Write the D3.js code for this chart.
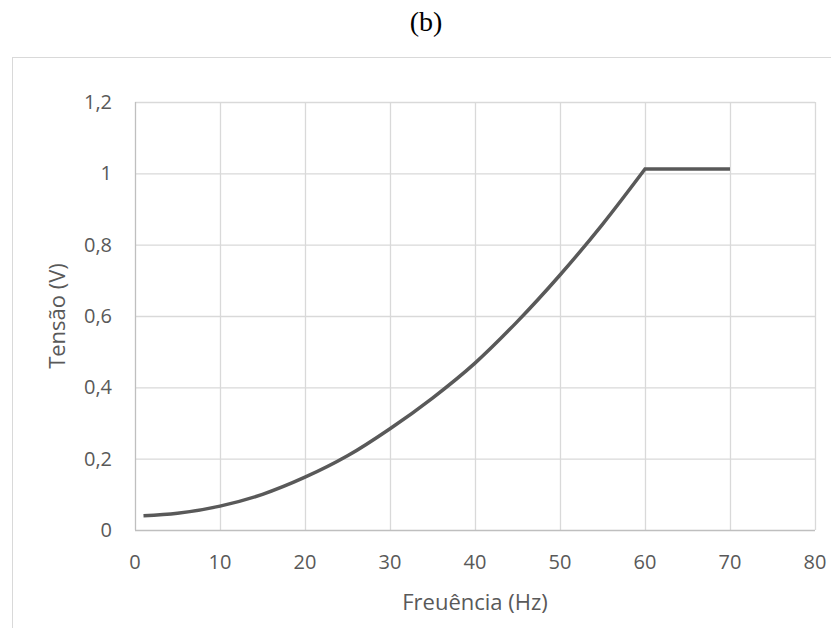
<!DOCTYPE html>
<html>
<head>
<meta charset="utf-8">
<script src="https://cdn.jsdelivr.net/npm/d3@7"></script>
<style>
  body { margin: 0; background: #fff; }
  text { font-family: "Open Sans", "Liberation Sans", sans-serif; }
</style>
</head>
<body>
<svg id="chart"></svg>
<script>
// chart size
const width = 831;
const height = 628;

// data
const freq = [1, 5, 10, 15, 20, 25, 30, 35, 40, 45, 50, 55, 60, 70];
const volts = [0.04, 0.047, 0.067, 0.10, 0.148, 0.208, 0.284, 0.37, 0.468, 0.585, 0.715, 0.857, 1.012, 1.012];
const xTicks = [0, 10, 20, 30, 40, 50, 60, 70, 80];
const yTicks = [0, 0.2, 0.4, 0.6, 0.8, 1, 1.2];

const svg = d3.select("#chart")
              .attr("width", width)
              .attr("height", height);

// plot area
const x = d3.scaleLinear().domain([0, 80]).range([135, 815]);
const y = d3.scaleLinear().domain([0, 1.2]).range([530, 102]);

// outer chart frame (runs off the picture to the right and bottom)
svg.append("rect")
   .attr("x", 12.5).attr("y", 57.5)
   .attr("width", 900).attr("height", 700)
   .attr("fill", "none")
   .attr("stroke", "#d9d9d9")
   .attr("stroke-width", 1);

// title
svg.append("text")
   .attr("x", 426).attr("y", 31)
   .attr("text-anchor", "middle")
   .style("font-family", "'Liberation Serif', serif")
   .style("font-size", "28px")
   .attr("fill", "#000")
   .text("(b)");

// gridlines
svg.append("g").selectAll("line")
   .data(yTicks.filter(d => d > 0))
   .enter().append("line")
   .attr("x1", x(0)).attr("x2", x(80))
   .attr("y1", d => y(d) + 0.5).attr("y2", d => y(d) + 0.5)
   .attr("stroke", "#d9d9d9").attr("stroke-width", 1.3);

svg.append("g").selectAll("line")
   .data(xTicks.filter(d => d > 0))
   .enter().append("line")
   .attr("x1", d => x(d) + 0.5).attr("x2", d => x(d) + 0.5)
   .attr("y1", y(1.2)).attr("y2", y(0))
   .attr("stroke", "#d9d9d9").attr("stroke-width", 1.3);

// axis lines
svg.append("line")
   .attr("x1", x(0)).attr("x2", x(80))
   .attr("y1", y(0) + 0.5).attr("y2", y(0) + 0.5)
   .attr("stroke", "#bfbfbf").attr("stroke-width", 1.3);
svg.append("line")
   .attr("x1", x(0) + 0.5).attr("x2", x(0) + 0.5)
   .attr("y1", y(1.2)).attr("y2", y(0))
   .attr("stroke", "#bfbfbf").attr("stroke-width", 1.3);

// tick labels
const fmt = d => String(d).replace(".", ",");

svg.append("g").selectAll("text")
   .data(yTicks)
   .enter().append("text")
   .attr("x", 112).attr("y", d => y(d))
   .attr("dy", "0.35em")
   .attr("text-anchor", "end")
   .attr("fill", "#595959")
   .style("font-size", "20px")
   .text(fmt);

svg.append("g").selectAll("text")
   .data(xTicks)
   .enter().append("text")
   .attr("x", d => x(d)).attr("y", 562)
   .attr("dy", "0.35em")
   .attr("text-anchor", "middle")
   .attr("fill", "#595959")
   .style("font-size", "20px")
   .text(fmt);

// axis titles
svg.append("text")
   .attr("transform", "translate(57," + ((y(0) + y(1.2)) / 2) + ") rotate(-90)")
   .attr("text-anchor", "middle")
   .attr("dy", "0.35em")
   .attr("fill", "#595959")
   .style("font-size", "22px")
   .text("Tensão (V)");

svg.append("text")
   .attr("x", (x(0) + x(80)) / 2).attr("y", 602)
   .attr("text-anchor", "middle")
   .attr("dy", "0.35em")
   .attr("fill", "#595959")
   .style("font-size", "22px")
   .text("Freuência (Hz)");

// the curve: smooth rise up to 60 Hz, then flat
const pts = freq.map((f, i) => [f, volts[i]]);
const knee = freq.indexOf(60);

const smooth = d3.line()
   .x(d => x(d[0]))
   .y(d => y(d[1]))
   .curve(d3.curveCatmullRom.alpha(0.5));

const straight = d3.line()
   .x(d => x(d[0]))
   .y(d => y(d[1]));

svg.append("path")
   .attr("d", smooth(pts.slice(0, knee + 1)) + straight(pts.slice(knee)).replace("M", "L"))
   .attr("fill", "none")
   .attr("stroke", "#595959")
   .attr("stroke-width", 3.5)
   .attr("stroke-linejoin", "miter");
</script>
</body>
</html>
